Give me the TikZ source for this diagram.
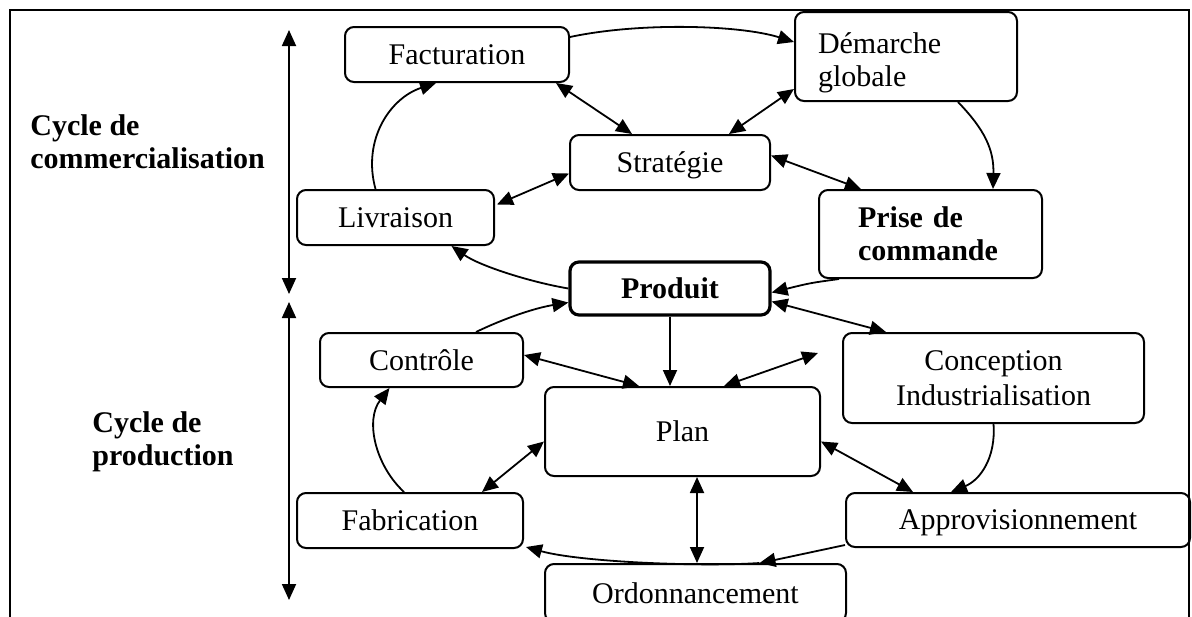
\documentclass[tikz,border=0pt]{standalone}
\usepackage{fontspec}
\setmainfont{Liberation Serif}
\usetikzlibrary{arrows.meta,calc}
\begin{document}
\begin{tikzpicture}[x=0.5pt,y=-0.5pt,
  >={Triangle[length=8pt,width=7pt]},
  every node/.style={font=\fontsize{15}{16.5}\selectfont},
  bold/.style={font=\fontsize{15}{16.5}\selectfont\bfseries},
  box/.style={draw, rounded corners=4.5pt, line width=1pt, inner sep=0pt, align=center},
  link/.style={line width=0.9pt},
  side/.style={bold, align=left, inner sep=0pt, anchor=west}]
\useasboundingbox (0,0) rectangle (1192,616);

% outer frame (its bottom edge lies below the page)
\draw[line width=1.2pt] (10,630) -- (10,10) -- (1189,10) -- (1189,630);

% side labels
\node[side] (lblcom) at (30,141.5) {Cycle de\\commercialisation};
\node[side] (lblprod) at (92,441.5) {Cycle de\\production};

% extent of the two cycles
\coordinate (ctop) at (289,30);
\coordinate (cmidA) at (289,294);
\coordinate (cmidB) at (289,302);
\coordinate (cbot) at (289,600);
\draw[link,<->] (ctop) -- (cmidA);
\draw[link,<->] (cmidB) -- (cbot);

% commercial cycle
\node[box, minimum width=112pt, minimum height=27.5pt] (fact) at (457,54.5) {Facturation};
\node[box, minimum height=44.5pt, text width=88pt, inner xsep=11.5pt, align=left, text depth=13pt] (dem) at (906,56.5) {Démarche\\globale};
\node[box, minimum width=100pt, minimum height=27.5pt, text depth=0pt] (strat) at (670,162.5) {Stratégie};
\node[box, minimum width=98.5pt, minimum height=27.5pt] (liv) at (395.5,217.5) {Livraison};
\node[box, bold, minimum height=44pt, text width=72.5pt, inner xsep=19.5pt, align=left] (prise) at (930.5,234) {Prise de\\commande};
\node[box, bold, line width=1.6pt, minimum width=100pt, minimum height=26.5pt] (prod) at (670,288.5) {Produit};

% production cycle
\node[box, minimum width=101.5pt, minimum height=27pt] (ctrl) at (421.5,360) {Contrôle};
\node[box, minimum width=150.5pt, minimum height=45pt] (conc) at (993.5,378) {Conception\\[1pt]Industrialisation};
\node[box, minimum width=137.5pt, minimum height=44.5pt] (plan) at (682.5,431.5) {Plan};
\node[box, minimum width=113pt, minimum height=27.5pt] (fab) at (410,520.5) {Fabrication};
\node[box, minimum width=172pt, minimum height=27pt, text depth=0pt] (appro) at (1018,520) {Approvisionnement};
\node[box, minimum width=150.5pt, minimum height=29pt] (ord) at (695.5,593) {Ordonnancement};

\coordinate (loose) at (818,353);
\coordinate (ordtop) at ($(ord.north)+(1.5,0)$);

% connectors of the commercial cycle
\draw[link,->] ($(fact.north east)+(0,11)$) .. controls (640,22) and (740,25) .. ($(dem.north west)+(0,31)$);
\draw[link,<->] ($(fact.south east)+(-14,0)$) -- ($(strat.north west)+(63,0)$);
\draw[link,<->] ($(strat.north east)+(-42,0)$) -- ($(dem.south west)+(0,-13)$);
\draw[link,<->] ($(strat.east)+(0,-7)$) -- ($(prise.north west)+(43,0)$);
\draw[link,->] ($(dem.south)+(52,0)$) .. controls (985,130) and (994,150) .. ($(prise.north west)+(175,0)$);
\draw[link,->] ($(liv.north)+(-20,0)$) .. controls (362,140) and (390,98) .. ($(fact.south west)+(92,0)$);
\draw[link,<->] ($(liv.east)+(2,-13)$) -- ($(strat.west)+(0,11)$);
\draw[link,->] (prod.west) .. controls (530,282) and (480,266) .. ($(liv.south)+(56,0)$);
\draw[link,->] ($(prise.south west)+(21,0)$) .. controls (810,283) .. ($(prod.east)+(0,4)$);

% connectors of the production cycle
\draw[link,<->] ($(prod.east)+(0,13)$) -- ($(conc.north west)+(44,0)$);
\draw[link,->] ($(ctrl.north east)+(-48,0)$) .. controls (505,318) and (535,308) .. ($(prod.west)+(0,14)$);
\draw[link,->] (prod.south) -- (prod.south |- plan.north);
\draw[link,<->] ($(ctrl.east)+(0,-5)$) -- ($(plan.north west)+(95,0)$);
\draw[link,<->] ($(plan.north west)+(180,0)$) -- (loose);
\draw[link,->] ($(fab.north)+(-6,0)$) .. controls (375,465) and (365,420) .. ($(ctrl.south)+(-32,0)$);
\draw[link,<->] ($(fab.north east)+(-42,0)$) -- ($(plan.west)+(0,10)$);
\draw[link,<->] ($(plan.east)+(0,10)$) -- ($(appro.north west)+(68,0)$);
\draw[link,->] (conc.south) .. controls (996,458) and (980,480) .. ($(appro.north west)+(106,0)$);
\draw[link,<->] (ordtop |- plan.south) -- (ordtop);
\draw[link,->] ($(appro.south west)+(0,-3)$) .. controls (810,553) .. ($(ord.north)+(64,0)$);
\draw[link,->] ($(ord.north)+(64,0)$) .. controls (700,567) and (580,562) .. ($(fab.south east)+(2,-2)$);
\end{tikzpicture}
\end{document}
